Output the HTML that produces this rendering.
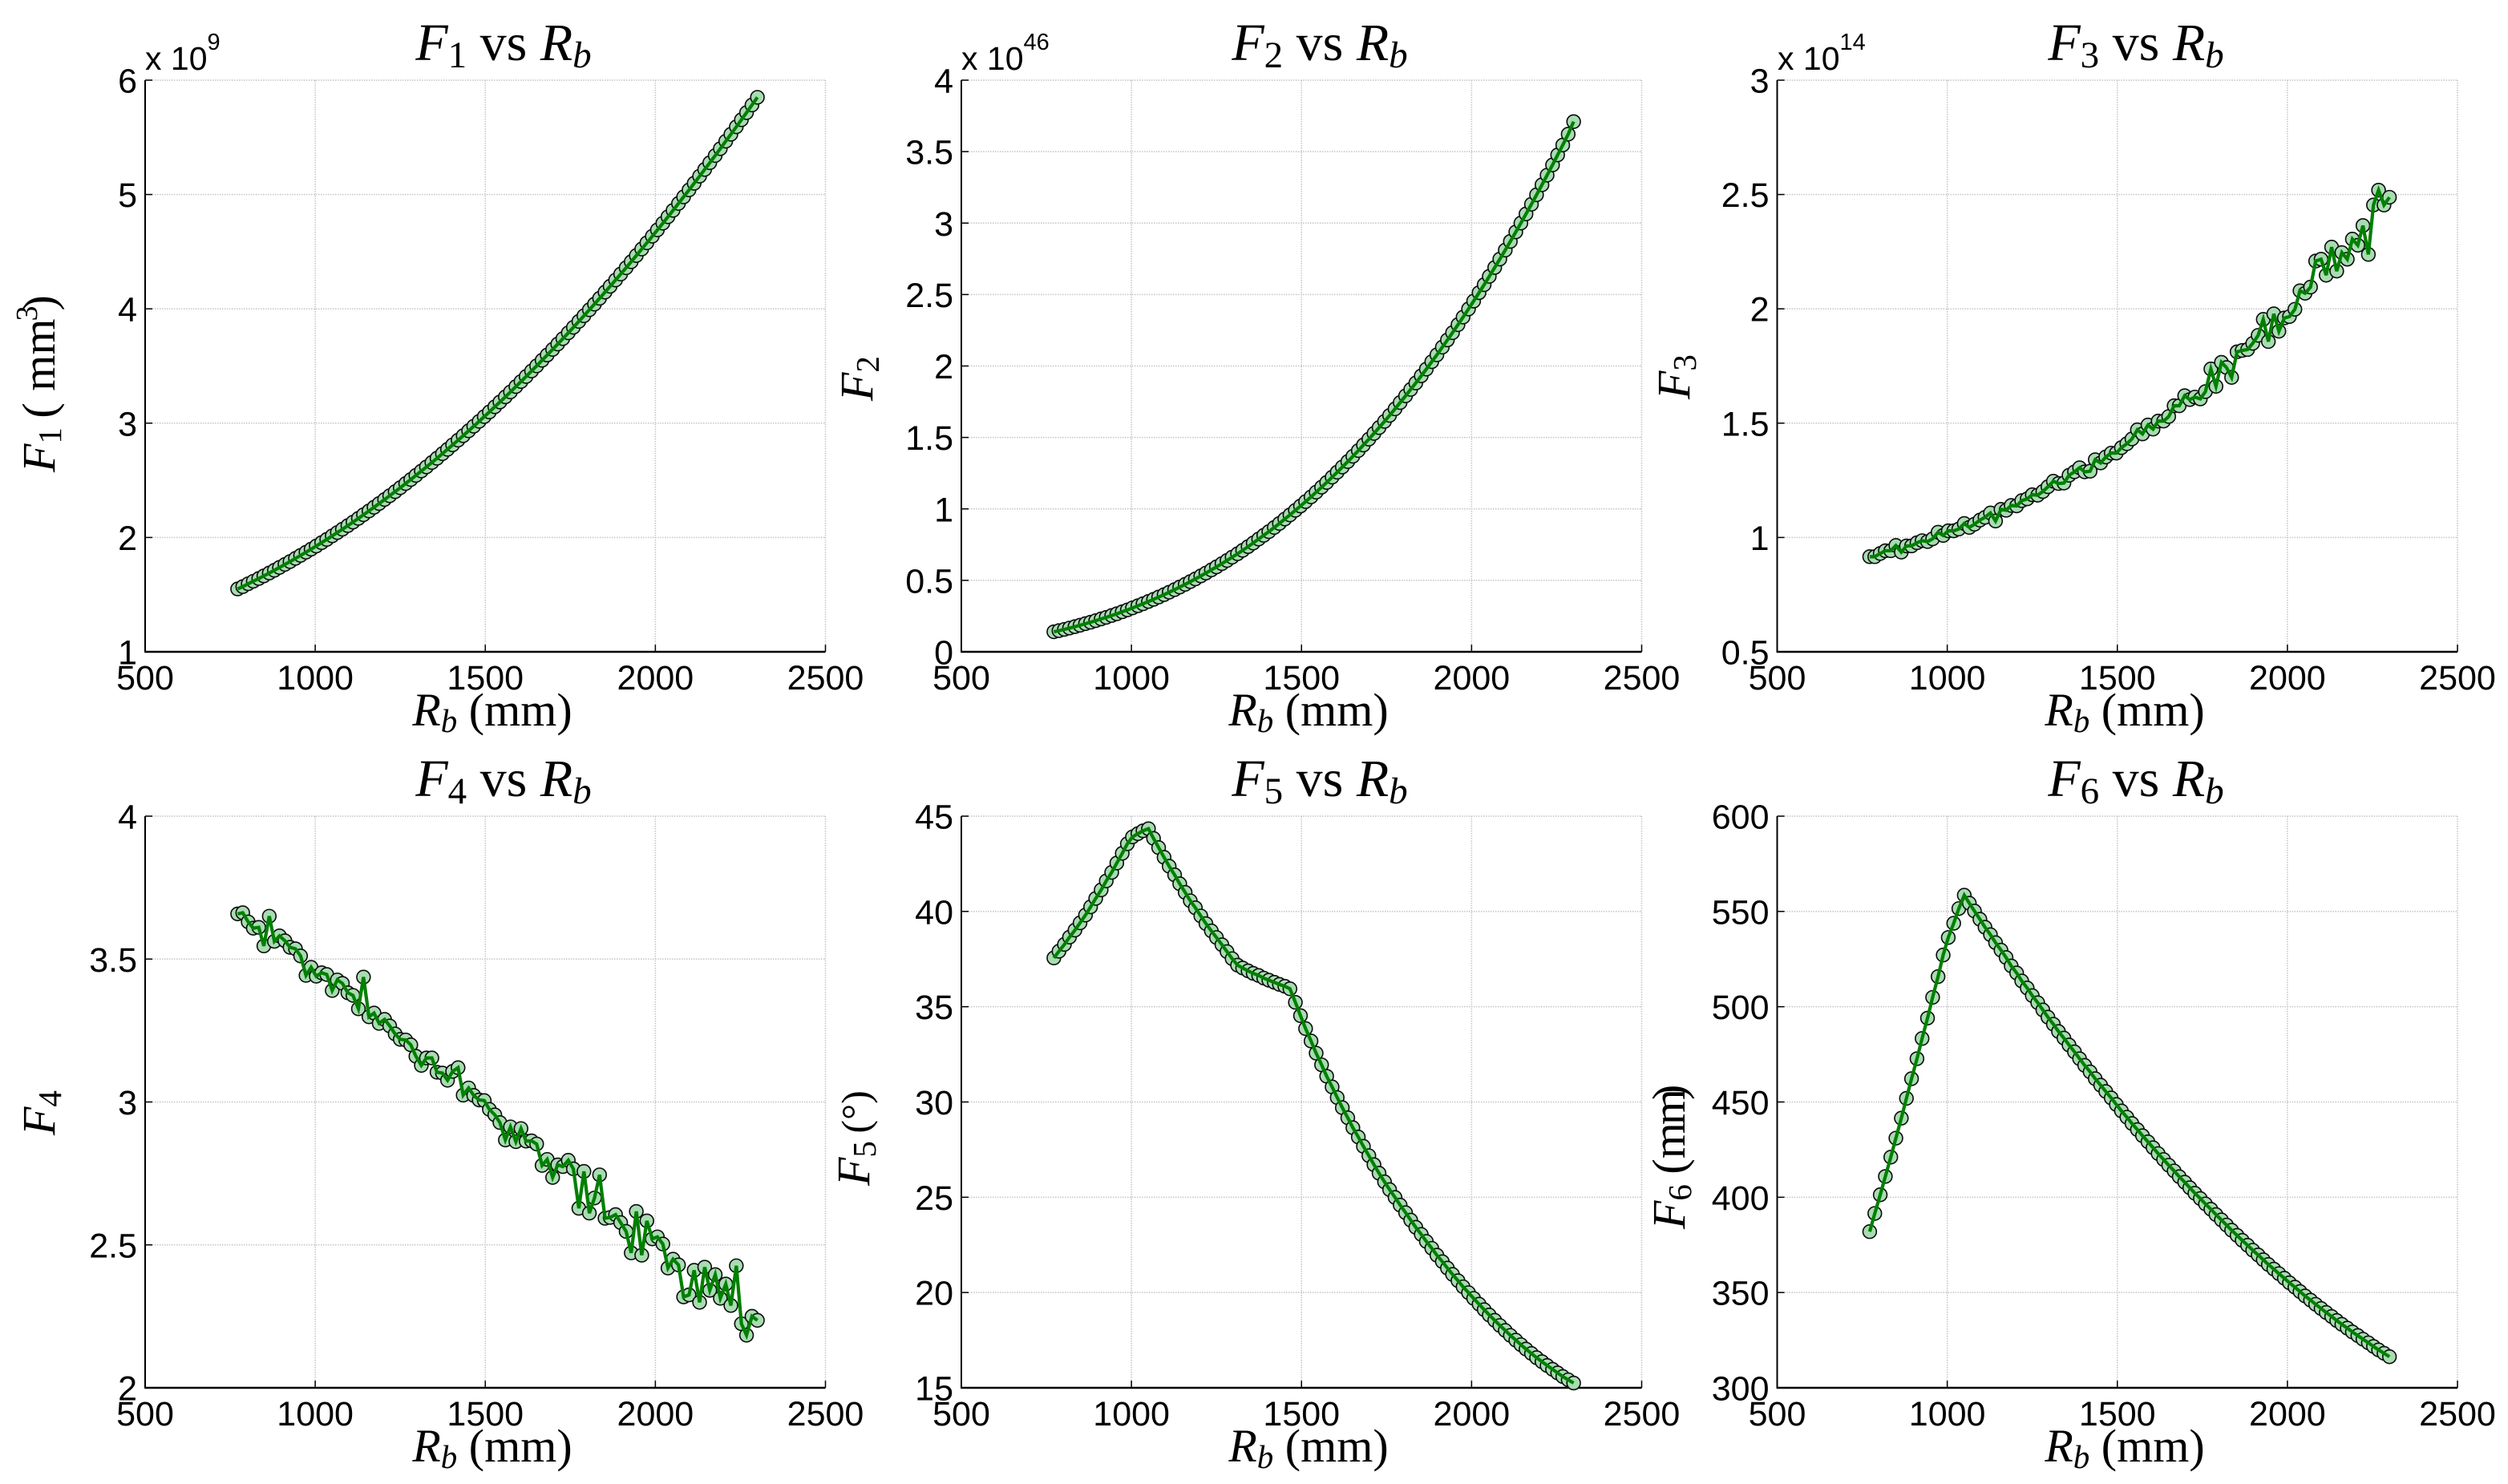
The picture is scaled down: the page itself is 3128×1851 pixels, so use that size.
<!DOCTYPE html>
<html lang="en">
<head>
<meta charset="utf-8">
<title>F1 to F6 vs Rb</title>
<style>
html,body{margin:0;padding:0;background:#fff;}
svg{display:block;}
.math{font-family:"Liberation Serif",serif;fill:#000;}
.tick{font-family:"Liberation Sans",sans-serif;font-size:43px;fill:#000;}
.mult{font-family:"Liberation Sans",sans-serif;font-size:41px;fill:#000;}
.i{font-style:italic;}
</style>
</head>
<body>
<svg id="chart" xmlns="http://www.w3.org/2000/svg" width="3128" height="1851" viewBox="0 0 3128 1851">
<rect width="3128" height="1851" fill="#fff"/>

<g id="p1"></g>
<g id="p2"></g>
<g id="p3"></g>
<g id="p4"></g>
<g id="p5"></g>
<g id="p6"></g>

<!-- titles -->
<text class="math" font-size="66" x="628" y="75" text-anchor="middle"><tspan class="i">F</tspan><tspan font-size="47" dy="9">1</tspan><tspan dy="-9"> vs </tspan><tspan class="i">R</tspan><tspan class="i" font-size="47" dy="9">b</tspan></text>
<text class="math" font-size="66" x="1646" y="75" text-anchor="middle"><tspan class="i">F</tspan><tspan font-size="47" dy="9">2</tspan><tspan dy="-9"> vs </tspan><tspan class="i">R</tspan><tspan class="i" font-size="47" dy="9">b</tspan></text>
<text class="math" font-size="66" x="2664" y="75" text-anchor="middle"><tspan class="i">F</tspan><tspan font-size="47" dy="9">3</tspan><tspan dy="-9"> vs </tspan><tspan class="i">R</tspan><tspan class="i" font-size="47" dy="9">b</tspan></text>
<text class="math" font-size="66" x="628" y="993" text-anchor="middle"><tspan class="i">F</tspan><tspan font-size="47" dy="9">4</tspan><tspan dy="-9"> vs </tspan><tspan class="i">R</tspan><tspan class="i" font-size="47" dy="9">b</tspan></text>
<text class="math" font-size="66" x="1646" y="993" text-anchor="middle"><tspan class="i">F</tspan><tspan font-size="47" dy="9">5</tspan><tspan dy="-9"> vs </tspan><tspan class="i">R</tspan><tspan class="i" font-size="47" dy="9">b</tspan></text>
<text class="math" font-size="66" x="2664" y="993" text-anchor="middle"><tspan class="i">F</tspan><tspan font-size="47" dy="9">6</tspan><tspan dy="-9"> vs </tspan><tspan class="i">R</tspan><tspan class="i" font-size="47" dy="9">b</tspan></text>

<!-- x axis titles -->
<text class="math" font-size="58" x="614" y="905" text-anchor="middle"><tspan class="i">R</tspan><tspan class="i" font-size="41" dy="8">b</tspan><tspan dy="-8"> (mm)</tspan></text>
<text class="math" font-size="58" x="1632" y="905" text-anchor="middle"><tspan class="i">R</tspan><tspan class="i" font-size="41" dy="8">b</tspan><tspan dy="-8"> (mm)</tspan></text>
<text class="math" font-size="58" x="2650" y="905" text-anchor="middle"><tspan class="i">R</tspan><tspan class="i" font-size="41" dy="8">b</tspan><tspan dy="-8"> (mm)</tspan></text>
<text class="math" font-size="58" x="614" y="1823" text-anchor="middle"><tspan class="i">R</tspan><tspan class="i" font-size="41" dy="8">b</tspan><tspan dy="-8"> (mm)</tspan></text>
<text class="math" font-size="58" x="1632" y="1823" text-anchor="middle"><tspan class="i">R</tspan><tspan class="i" font-size="41" dy="8">b</tspan><tspan dy="-8"> (mm)</tspan></text>
<text class="math" font-size="58" x="2650" y="1823" text-anchor="middle"><tspan class="i">R</tspan><tspan class="i" font-size="41" dy="8">b</tspan><tspan dy="-8"> (mm)</tspan></text>

<!-- y axis titles -->
<text class="math" font-size="58" transform="translate(68,589) rotate(-90)"><tspan class="i">F</tspan><tspan font-size="41" dy="8">1</tspan><tspan dy="-8" dx="-3"> ( mm</tspan><tspan font-size="38" dy="-22" dx="-3">3</tspan><tspan dy="22" dx="-6">)</tspan></text>
<text class="math" font-size="58" transform="translate(1088,500) rotate(-90)"><tspan class="i">F</tspan><tspan font-size="41" dy="8">2</tspan></text>
<text class="math" font-size="58" transform="translate(2107,498) rotate(-90)"><tspan class="i">F</tspan><tspan font-size="41" dy="8">3</tspan></text>
<text class="math" font-size="58" transform="translate(68,1416) rotate(-90)"><tspan class="i">F</tspan><tspan font-size="41" dy="8">4</tspan></text>
<text class="math" font-size="58" transform="translate(1084,1479) rotate(-90)"><tspan class="i">F</tspan><tspan font-size="41" dy="8">5</tspan><tspan dy="-8" dx="-3" font-size="50"> (°)</tspan></text>
<text class="math" font-size="58" transform="translate(2101,1533) rotate(-90)"><tspan class="i">F</tspan><tspan font-size="41" dy="8">6</tspan><tspan dy="-8" dx="-2"> (m</tspan><tspan dx="-3">m</tspan><tspan dx="-14">)</tspan></text>

<!-- axis multipliers -->
<text class="mult" x="181" y="87">x 10<tspan font-size="29" dy="-25">9</tspan></text>
<text class="mult" x="1199" y="87">x 10<tspan font-size="29" dy="-25">46</tspan></text>
<text class="mult" x="2217" y="87">x 10<tspan font-size="29" dy="-25">14</tspan></text>
</svg>

<script>
const rbValues = [772,787,803,818,834,849,865,880,895,911,926,942,957,973,988,1003,1019,1034,1050,1065,
1080,1096,1111,1127,1142,1158,1173,1188,1204,1219,1235,1250,1266,1281,1296,1312,1327,1343,1358,1374,
1389,1404,1420,1435,1451,1466,1482,1497,1512,1528,1543,1559,1574,1590,1605,1620,1636,1651,1667,1682,
1698,1713,1728,1744,1759,1775,1790,1806,1821,1836,1852,1867,1883,1898,1914,1929,1944,1960,1975,1991,
2006,2022,2037,2052,2068,2083,2099,2114,2130,2145,2160,2176,2191,2207,2222,2238,2253,2268,2284,2300];

const f1Values = [1.55,1.57,1.595,1.617,1.641,1.664,1.689,1.713,1.738,1.764,1.789,1.817,1.843,1.871,1.898,1.925,1.955,1.983,2.014,2.043,
2.072,2.104,2.134,2.167,2.199,2.232,2.264,2.297,2.332,2.365,2.401,2.435,2.472,2.507,2.543,2.581,2.617,2.656,2.693,2.733,
2.771,2.81,2.851,2.89,2.933,2.973,3.016,3.057,3.098,3.143,3.185,3.23,3.273,3.32,3.364,3.408,3.456,3.501,3.55,3.596,
3.645,3.692,3.739,3.79,3.838,3.89,3.939,3.992,4.041,4.092,4.146,4.197,4.252,4.304,4.359,4.412,4.466,4.523,4.577,4.635,
4.69,4.749,4.805,4.861,4.922,4.979,5.04,5.098,5.16,5.219,5.278,5.341,5.401,5.466,5.527,5.592,5.654,5.716,5.783,5.85];

const f2Values = [0.14,0.148,0.157,0.166,0.176,0.186,0.197,0.207,0.218,0.23,0.241,0.254,0.266,0.28,0.293,0.307,0.322,0.336,0.352,0.367,
0.383,0.40,0.417,0.435,0.453,0.472,0.491,0.51,0.531,0.551,0.573,0.594,0.617,0.639,0.662,0.686,0.71,0.736,0.761,0.789,
0.815,0.841,0.87,0.898,0.929,0.958,0.99,1.02,1.051,1.084,1.117,1.152,1.185,1.222,1.257,1.293,1.331,1.368,1.408,1.447,
1.488,1.528,1.569,1.612,1.654,1.7,1.744,1.791,1.836,1.881,1.931,1.978,2.03,2.078,2.132,2.182,2.233,2.289,2.342,2.399,
2.454,2.513,2.569,2.627,2.689,2.748,2.811,2.872,2.938,3.0,3.064,3.132,3.198,3.268,3.335,3.407,3.477,3.546,3.622,3.71];

const f3Values = [0.916,0.916,0.93,0.942,0.942,0.965,0.936,0.963,0.963,0.977,0.986,0.982,0.994,1.023,1.009,1.029,1.029,1.037,1.061,1.044,
1.058,1.076,1.088,1.107,1.072,1.123,1.119,1.14,1.138,1.161,1.169,1.187,1.185,1.201,1.222,1.246,1.236,1.238,1.272,1.287,
1.305,1.287,1.29,1.34,1.326,1.352,1.369,1.369,1.393,1.41,1.431,1.471,1.453,1.492,1.474,1.509,1.509,1.529,1.576,1.576,
1.62,1.603,1.614,1.606,1.638,1.737,1.661,1.766,1.743,1.70,1.812,1.818,1.822,1.849,1.884,1.954,1.857,1.978,1.902,1.96,
1.966,1.998,2.079,2.068,2.095,2.209,2.217,2.147,2.27,2.165,2.246,2.217,2.305,2.278,2.364,2.238,2.454,2.519,2.454,2.488];

const f4Values = [3.658,3.662,3.63,3.608,3.611,3.546,3.65,3.562,3.581,3.564,3.541,3.536,3.511,3.443,3.471,3.44,3.452,3.446,3.39,3.427,
3.415,3.382,3.373,3.326,3.437,3.298,3.311,3.275,3.289,3.266,3.238,3.219,3.217,3.2,3.16,3.128,3.154,3.154,3.104,3.101,
3.076,3.107,3.12,3.024,3.049,3.023,3.007,3.005,2.974,2.955,2.928,2.867,2.913,2.861,2.907,2.863,2.864,2.853,2.778,2.799,
2.736,2.78,2.774,2.796,2.766,2.628,2.757,2.611,2.664,2.745,2.593,2.596,2.606,2.578,2.547,2.472,2.617,2.464,2.584,2.521,
2.528,2.503,2.419,2.45,2.43,2.318,2.325,2.411,2.299,2.422,2.341,2.396,2.313,2.363,2.288,2.427,2.224,2.184,2.25,2.236];

const f5Values = [37.56,37.91,38.27,38.65,39.02,39.4,39.81,40.24,40.68,41.13,41.6,42.05,42.54,43.05,43.55,43.91,44.08,44.23,44.34,43.83,
43.35,42.84,42.37,41.92,41.45,41.0,40.56,40.19,39.76,39.36,38.98,38.63,38.25,37.89,37.52,37.18,37.03,36.88,36.75,36.64,
36.5,36.39,36.28,36.17,36.07,35.94,35.23,34.53,33.85,33.2,32.56,31.95,31.35,30.79,30.23,29.7,29.17,28.65,28.16,27.67,
27.18,26.71,26.26,25.81,25.4,24.99,24.59,24.19,23.80,23.42,23.05,22.68,22.32,21.96,21.62,21.28,20.95,20.62,20.30,19.99,
19.69,19.39,19.10,18.82,18.54,18.27,18.01,17.75,17.50,17.26,17.03,16.80,16.58,16.37,16.17,15.97,15.78,15.59,15.42,15.25];

const f6Values = [381.95,391.5,401.3,410.9,421.05,431,441.5,451.9,462.2,472.7,483.3,494,504.9,515.8,527.1,536.3,543.8,551.5,558.5,554.3,
550.2,545.9,541.7,537.8,533.6,529.7,525.8,521.4,517.7,513.5,509.8,505.8,502.1,498.3,494.5,490.8,487,483.5,479.9,476.3,
472.7,469.2,465.8,462.2,458.8,455.5,452.1,448.7,445.3,442.0,438.7,435.5,432.3,429.1,426.0,422.9,419.8,416.8,413.8,410.8,
407.9,405.0,402.1,399.3,396.5,393.7,390.9,388.1,385.4,382.7,380.0,377.4,374.8,372.2,369.7,367.2,364.7,362.3,359.9,357.5,
355.1,352.8,350.5,348.2,346.0,343.8,341.6,339.5,337.4,335.3,333.3,331.3,329.3,327.4,325.5,323.6,321.7,319.9,318.1,316.3];

const xTickLabels = [500,1000,1500,2000,2500];
const f1TickLabels = [1,2,3,4,5,6];
const f2TickLabels = [0,0.5,1,1.5,2,2.5,3,3.5,4];
const f3TickLabels = [0.5,1,1.5,2,2.5,3];
const f4TickLabels = [2,2.5,3,3.5,4];
const f5TickLabels = [15,20,25,30,35,40,45];
const f6TickLabels = [300,350,400,450,500,550,600];

const NS = 'http://www.w3.org/2000/svg';
const PLOT_W = 848.5;
const PLOT_H = 713;
const columnLeft = [181, 1199, 2216.5];
const rowTop = [100, 1018];

function mk(parent, tag, attrs) {
  const el = document.createElementNS(NS, tag);
  for (const k in attrs) el.setAttribute(k, attrs[k]);
  parent.appendChild(el);
  return el;
}

function drawPanel(groupId, suffix, left, top, values, yTicks) {
  const g = document.getElementById(groupId);
  const xMin = xTickLabels[0], xMax = xTickLabels[xTickLabels.length - 1];
  const yMin = yTicks[0], yMax = yTicks[yTicks.length - 1];
  const xScale = v => left + (v - xMin) / (xMax - xMin) * PLOT_W;
  const yScale = v => top + PLOT_H - (v - yMin) / (yMax - yMin) * PLOT_H;
  const bottom = top + PLOT_H;
  const right = left + PLOT_W;

  xTickLabels.forEach(t => {
    const x = xScale(t);
    if (t !== xMin) {
      const grid = mk(g, 'line', {x1: x, x2: x, y1: top, y2: bottom, stroke: '#c4c4c4', 'stroke-width': 1.5, 'stroke-dasharray': '1.5 1.5'});
      
      
    }
    const tick = mk(g, 'line', {x1: x, x2: x, y1: bottom, y2: bottom - 9, stroke: '#000', 'stroke-width': 1.5});
    
    
    const label = mk(g, 'text', {x: x, y: bottom + 47, 'text-anchor': 'middle', class: 'tick'});
    label.textContent = String(t);
    
    
  });

  yTicks.forEach(t => {
    const y = yScale(t);
    if (t !== yMin) {
      const grid = mk(g, 'line', {x1: left, x2: right, y1: y, y2: y, stroke: '#c4c4c4', 'stroke-width': 1.5, 'stroke-dasharray': '1.5 1.5'});
      
      
    }
    const tick = mk(g, 'line', {x1: left, x2: left + 9, y1: y, y2: y, stroke: '#000', 'stroke-width': 1.5});
    
    
    const label = mk(g, 'text', {x: left - 10, y: y + 15.5, 'text-anchor': 'end', class: 'tick'});
    label.textContent = String(t);
    
    
  });

  const yAxis = mk(g, 'line', {x1: left, x2: left, y1: top, y2: bottom + 1, stroke: '#000', 'stroke-width': 2});
  
  
  const xAxis = mk(g, 'line', {x1: left, x2: right, y1: bottom, y2: bottom, stroke: '#000', 'stroke-width': 2.5});
  
  

  const pts = [];
  values.forEach((v, i) => {
    const cx = xScale(rbValues[i]);
    const cy = yScale(v);
    pts.push(cx.toFixed(2) + ',' + cy.toFixed(2));
    const dot = mk(g, 'circle', {cx: cx, cy: cy, r: 8.4, fill: '#a8dcb2', stroke: '#0a0a0a', 'stroke-width': 1.6});
    
    
  });
  const line = mk(g, 'polyline', {points: pts.join(' '), fill: 'none', stroke: '#008000', 'stroke-width': 4.2, 'stroke-linejoin': 'miter'});
  
  
}

drawPanel('p1', 'f1', columnLeft[0], rowTop[0], f1Values, f1TickLabels);
drawPanel('p2', 'f2', columnLeft[1], rowTop[0], f2Values, f2TickLabels);
drawPanel('p3', 'f3', columnLeft[2], rowTop[0], f3Values, f3TickLabels);
drawPanel('p4', 'f4', columnLeft[0], rowTop[1], f4Values, f4TickLabels);
drawPanel('p5', 'f5', columnLeft[1], rowTop[1], f5Values, f5TickLabels);
drawPanel('p6', 'f6', columnLeft[2], rowTop[1], f6Values, f6TickLabels);
</script>
</body>
</html>
